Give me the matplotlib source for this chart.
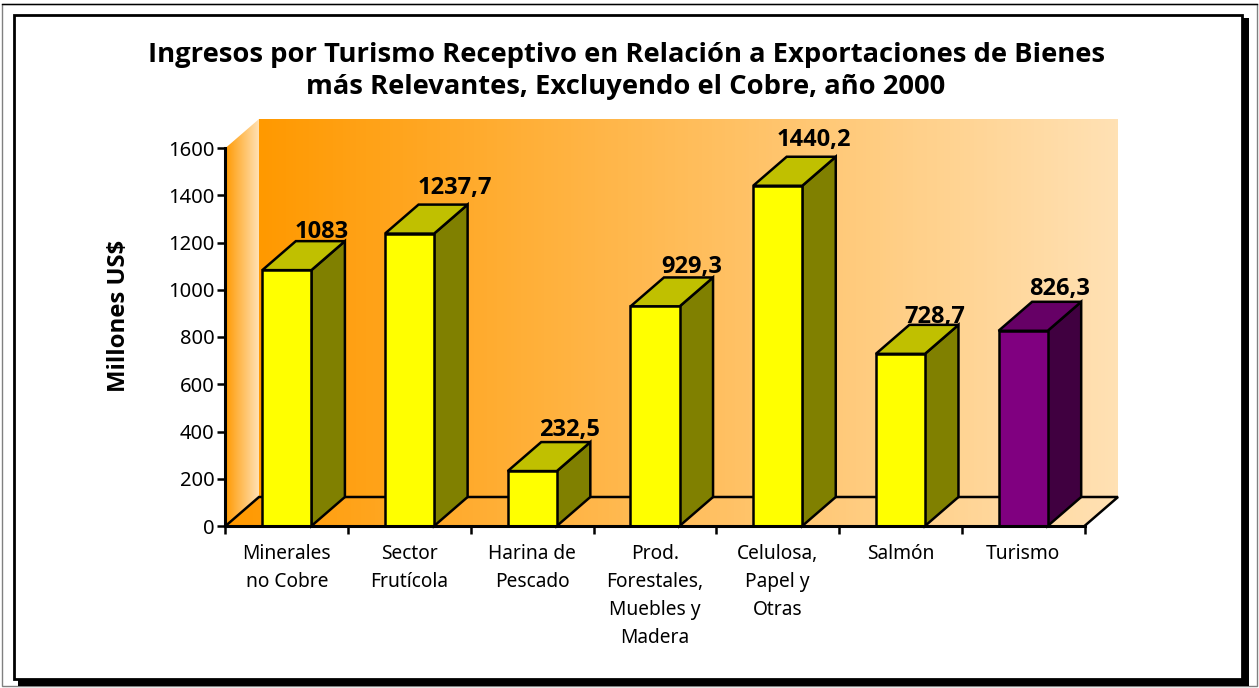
import numpy as np
import matplotlib
matplotlib.use("Agg")
import matplotlib.pyplot as plt
from matplotlib.colors import LinearSegmentedColormap
from matplotlib.patches import Polygon, Rectangle

categories = ["Minerales\nno Cobre", "Sector\nFrutícola", "Harina de\nPescado",
              "Prod.\nForestales,\nMuebles y\nMadera", "Celulosa,\nPapel y\nOtras",
              "Salmón", "Turismo"]
values = [1083, 1237.7, 232.5, 929.3, 1440.2, 728.7, 826.3]
value_labels = ["1083", "1237,7", "232,5", "929,3", "1440,2", "728,7", "826,3"]
yticks = [0, 200, 400, 600, 800, 1000, 1200, 1400, 1600]

# label nudges in pixels, from the back top edge of each bar
label_dx = [1, 12, 4, 3, 3, 1, 3]
label_dy = [9, 17, 12, 10, 17, 8, 13]

W, H = 1259, 688
FONT = "Noto Sans"
BOLD = "Open Sans"
plt.rcParams['font.family'] = [FONT, 'DejaVu Sans']

fig = plt.figure(figsize=(W / 100, H / 100), dpi=100)

# frames, in figure pixels
def frame(x0, y0, x1, y1, **kw):
    fig.add_artist(Rectangle((x0 / W, 1 - y1 / H), (x1 - x0) / W, (y1 - y0) / H,
                             transform=fig.transFigure, zorder=-5, **kw))

frame(1.5, 3.5, 1257, 686, fill=False, edgecolor='#808080', linewidth=1)
fig.add_artist(plt.Line2D([1.5 / W, 1257 / W], [1 - 3.5 / H] * 2, color='black', linewidth=1, zorder=-5))
frame(18, 18, 1249, 686, facecolor='black', edgecolor='none')
frame(14, 15, 1242, 679, facecolor='white', edgecolor='black', linewidth=2)

ax = fig.add_axes([225.5 / W, 1 - 526 / H, 859 / W, 378 / H])
ax.set_xlim(0, 7)
ax.set_ylim(0, 1600)
ax.set_facecolor('none')

# depth of the fake 3D, in data units
DX = 33.5 / 859 * 7
DY = 29 / 378 * 1600

grad = LinearSegmentedColormap.from_list("wall", ["#FF9900", "#FFE1B4"])
ramp = np.linspace(0, 1, 256).reshape(1, -1)

def gradient_poly(points, x0, x1):
    poly = Polygon(points, closed=True, facecolor='none', edgecolor='none',
                   transform=ax.transData, clip_on=False)
    ax.add_patch(poly)
    im = ax.imshow(ramp, cmap=grad, extent=(x0, x1, 0, 1600 + DY), aspect='auto',
                   zorder=1)
    im.set_clip_box(fig.bbox)
    im.set_clip_path(poly)

gradient_poly([(DX, DY), (7 + DX, DY), (7 + DX, 1600 + DY), (DX, 1600 + DY)], DX, 7 + DX)
gradient_poly([(0, 0), (DX, DY), (DX, 1600 + DY), (0, 1600)], 0, DX)
gradient_poly([(0, 0), (7, 0), (7 + DX, DY), (DX, DY)], 0, 7 + DX)
ax.set_xlim(0, 7)
ax.set_ylim(0, 1600)

lw = 1.8
ax.plot([0, DX, 7 + DX, 7], [0, DY, DY, 0], color='black', linewidth=lw, zorder=2,
        clip_on=False, solid_joinstyle='miter')

bar_w = 0.4
for i, v in enumerate(values):
    left = i + 0.5 - bar_w / 2
    right = left + bar_w
    if i == 6:
        front, top, side = '#800080', '#660066', '#400040'
    else:
        front, top, side = '#FFFF00', '#C0C000', '#808000'
    style = dict(edgecolor='black', linewidth=lw, zorder=3, clip_on=False, joinstyle='miter')
    ax.add_patch(Polygon([(right, 0), (right + DX, DY), (right + DX, v + DY), (right, v)],
                         facecolor=side, **style))
    ax.add_patch(Polygon([(left, v), (right, v), (right + DX, v + DY), (left + DX, v + DY)],
                         facecolor=top, **style))
    ax.add_patch(Rectangle((left, 0), bar_w, v, facecolor=front, **style))
    ax.annotate(value_labels[i], xy=(i + 0.5 + DX, v + DY),
                xytext=(label_dx[i] * 0.72, label_dy[i] * 0.72), textcoords='offset points',
                ha='center', va='center', fontsize=17, fontweight='bold', family=BOLD,
                color='black', zorder=5, annotation_clip=False)

for s in ['top', 'right']:
    ax.spines[s].set_visible(False)
for s in ['left', 'bottom']:
    ax.spines[s].set_linewidth(2.2)
    ax.spines[s].set_zorder(4)

ax.set_yticks(yticks)
ax.tick_params(axis='y', labelsize=14.5, length=6, width=1.8, pad=2)
ax.set_xticks(range(8))
ax.set_xticklabels([])
ax.set_xticks(np.arange(7) + 0.5, labels=categories, minor=True)
ax.tick_params(axis='x', which='major', length=6, width=1.8)
ax.tick_params(axis='x', which='minor', length=0, pad=13, labelsize=13.8)
for t in ax.get_xticklabels(minor=True):
    t.set_linespacing(1.54)

fig.text(118.5 / W, 1 - 316 / H, "Millones US$", rotation=90, ha='center', va='center',
         fontsize=17.2, fontweight='bold', family=BOLD)
fig.text(626 / W, 1 - 71 / H,
         "Ingresos por Turismo Receptivo en Relación a Exportaciones de Bienes\n"
         "más Relevantes, Excluyendo el Cobre, año 2000",
         ha='center', va='center', fontsize=19.7, fontweight='bold', family=BOLD, linespacing=1.31)

fig.savefig("out.png", dpi=100)
